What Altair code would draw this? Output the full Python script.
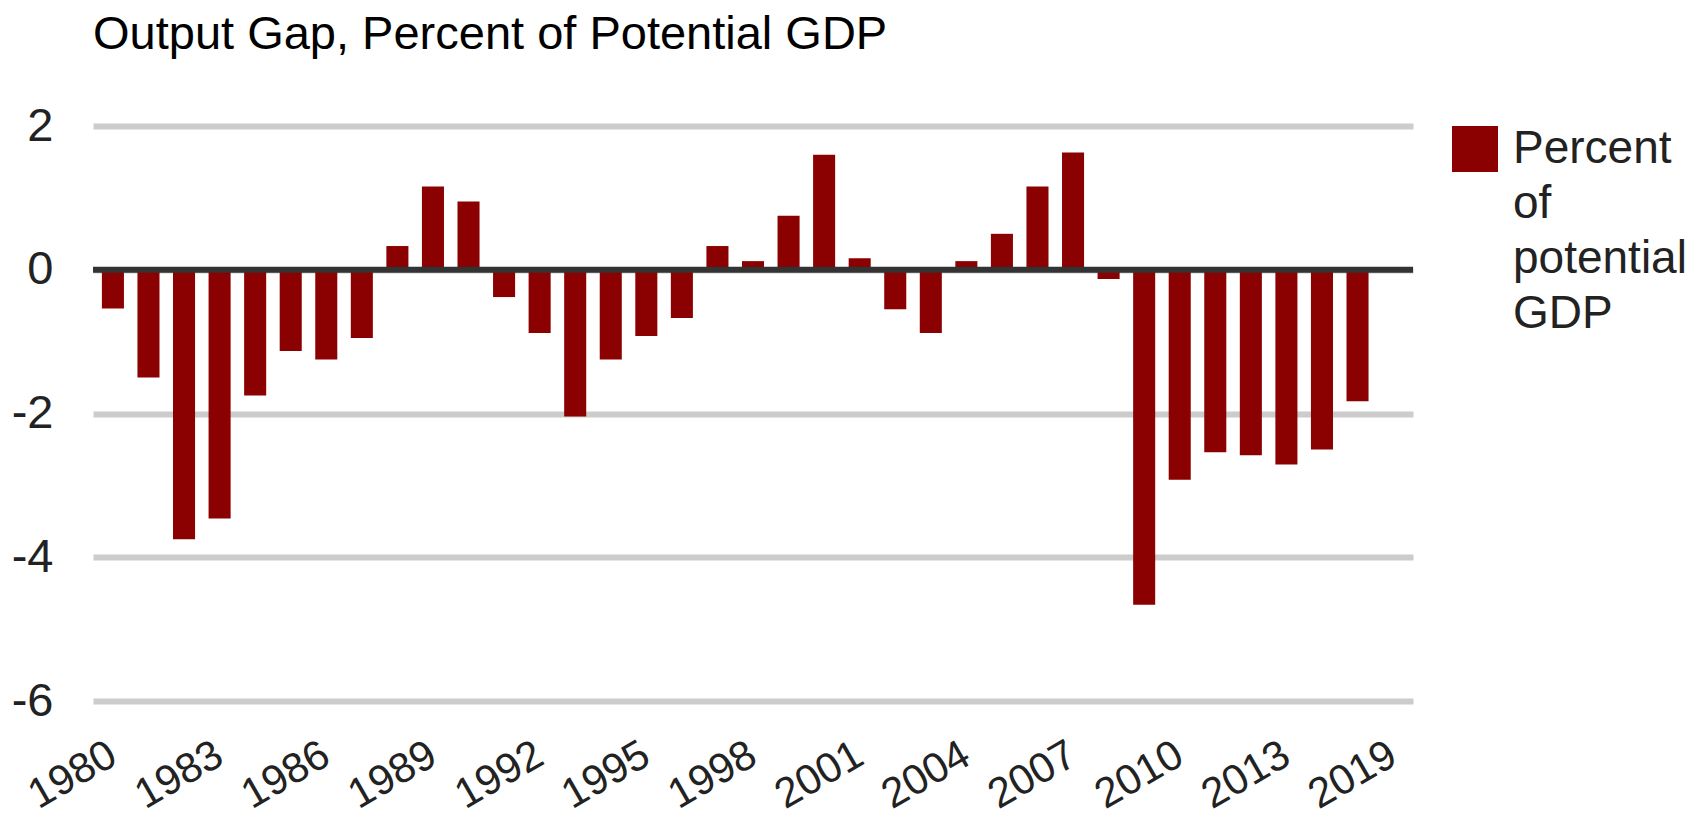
import altair as alt
import pandas as pd

FONT = "Liberation Sans"

title_text = "Output Gap, Percent of Potential GDP"
series_name = "Percent of potential GDP"

years = ["1980", "1981", "1982", "1983", "1984", "1985", "1986", "1987", "1988", "1989",
         "1990", "1991", "1992", "1993", "1994", "1995", "1996", "1997", "1998", "1999",
         "2000", "2001", "2002", "2003", "2004", "2005", "2006", "2007", "2008", "2009",
         "2010", "2011", "2012", "2013", "2014", "2015"]
gap = [-0.54, -1.50, -3.75, -3.46, -1.75, -1.13, -1.25, -0.95, 0.33, 1.16,
       0.95, -0.38, -0.88, -2.04, -1.25, -0.92, -0.67, 0.33, 0.12, 0.75,
       1.60, 0.16, -0.55, -0.88, 0.12, 0.50, 1.16, 1.63, -0.13, -4.66,
       -2.92, -2.54, -2.58, -2.71, -2.50, -1.83]

# category axis as in the original: the last slot is labelled 2019 and holds no bar
axis_categories = years + ["2019"]
x_tick_labels = ["1980", "1983", "1986", "1989", "1992", "1995", "1998",
                 "2001", "2004", "2007", "2010", "2013", "2019"]
y_ticks = [-6, -4, -2, 0, 2]
y_domain = [-6, 2]

df = pd.DataFrame({"year": years, "gap": gap, "series": [series_name] * len(years)})
zero_df = pd.DataFrame({"level": [0]})

x_enc = alt.X(
    "year:N",
    sort=None,
    scale=alt.Scale(domain=axis_categories, paddingInner=0.38, paddingOuter=0.25),
    axis=alt.Axis(
        values=x_tick_labels, labelAngle=-30, labelAlign="right", labelBaseline="middle",
        labelPadding=50, labelOffset=0, ticks=False, domain=False, grid=False, title=None,
        labelFontSize=42, labelFont=FONT, labelColor="#222222", labelOverlap=False,
        labelFlush=False,
    ),
)
y_enc = alt.Y(
    "gap:Q",
    scale=alt.Scale(domain=y_domain, nice=False),
    axis=alt.Axis(
        values=y_ticks, labelExpr="'' + datum.value", grid=True, gridColor="#cccccc",
        gridWidth=6, domain=False, ticks=False, labelPadding=40, labelFontSize=47,
        labelFont=FONT, labelColor="#222222", title=None,
    ),
)

bars = alt.Chart(df).mark_bar().encode(
    x=x_enc,
    y=y_enc,
    y2=alt.datum(0),
    color=alt.Color(
        "series:N",
        scale=alt.Scale(range=["#8b0000"]),
        legend=alt.Legend(
            title=None, orient="right", offset=39, padding=0,
            symbolType="square", symbolSize=2116, symbolStrokeWidth=0,
            labelFontSize=46, labelFont=FONT, labelColor="#222222",
            labelOffset=15, labelExpr="split(datum.label, ' ')",
            labelBaseline="middle", labelLimit=0,
        ),
    ),
)

zero_line = alt.Chart(zero_df).mark_rule(color="#333333", strokeWidth=6).encode(
    y=alt.Y("level:Q")
)

chart = (
    alt.layer(bars, zero_line)
    .properties(
        width=1320,
        height=575,
        title=alt.TitleParams(
            title_text, anchor="start", frame="group", fontSize=47, font=FONT,
            fontWeight="normal", color="#000000", offset=43,
        ),
        autosize=alt.AutoSizeParams(type="none"),
        padding={"left": 85, "top": 118, "right": 287, "bottom": 116},
    )
    .configure(
        background="white",
        view=alt.ViewConfig(stroke=None),
        style={"guide-label": {"lineHeight": 55}},
    )
)

chart.save("out.html", embed_options={"renderer": "svg", "actions": False})
